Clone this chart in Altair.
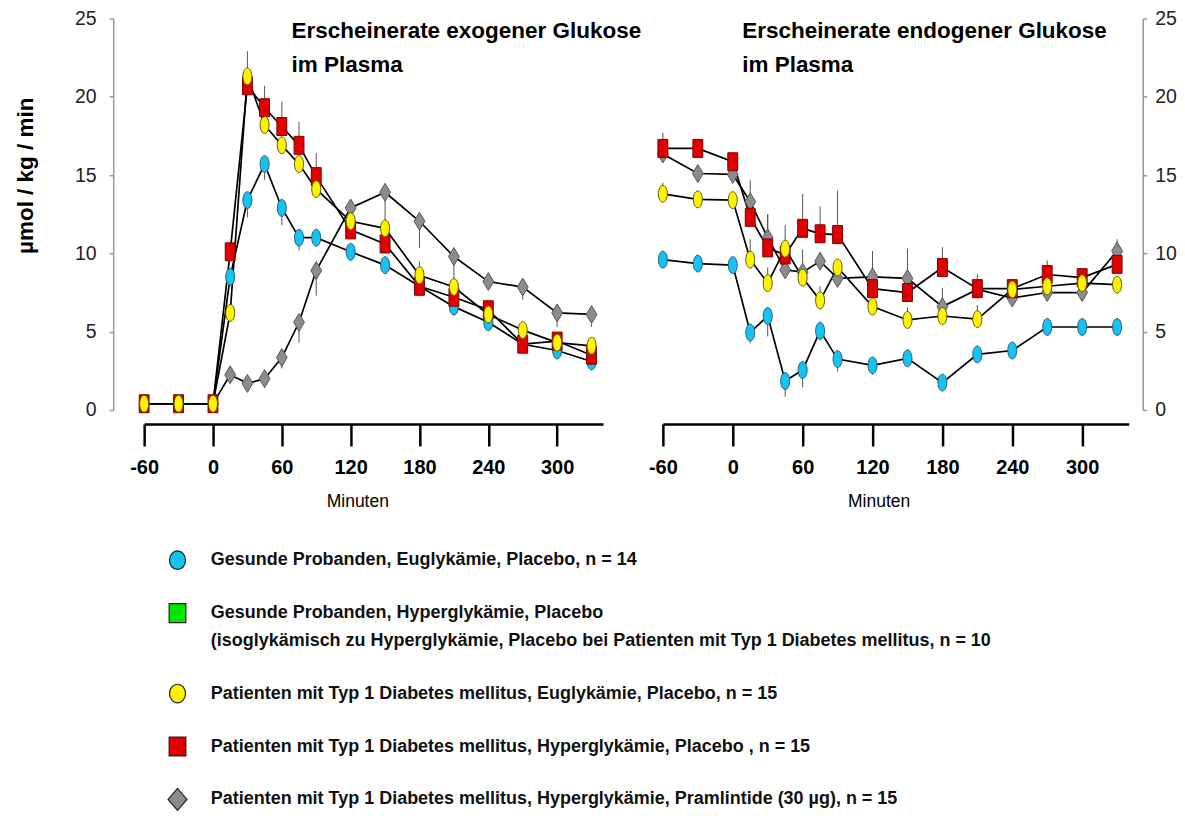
import altair as alt
import pandas as pd

# ---------------- data ----------------
times = [-60, -30, 0, 15, 30, 45, 60, 75, 90, 120, 150, 180, 210, 240, 270, 300, 330]

series_keys = ["healthy_eu", "healthy_hyper", "t1d_eu", "t1d_hyper", "t1d_pram"]
legend_labels = [
    "Gesunde Probanden, Euglykämie, Placebo, n = 14",
    "Gesunde Probanden, Hyperglykämie, Placebo\n(isoglykämisch zu Hyperglykämie, Placebo bei Patienten mit Typ 1 Diabetes mellitus, n = 10",
    "Patienten mit Typ 1 Diabetes mellitus, Euglykämie, Placebo, n = 15",
    "Patienten mit Typ 1 Diabetes mellitus, Hyperglykämie, Placebo , n = 15",
    "Patienten mit Typ 1 Diabetes mellitus, Hyperglykämie, Pramlintide (30 µg), n = 15",
]
fill_colors = ["#14C3F2", "#00E600", "#FFF200", "#E00000", "#8C8C8C"]
stroke_colors = ["#2A5B77", "#111111", "#5A5A00", "#7A0000", "#555555"]

# exogenous glucose Ra (left panel)
cyan_exo = [0.4, 0.4, 0.4, 8.5, 13.4, 15.7, 12.9, 11.0, 11.0, 10.1, 9.25, 7.9, 6.6, 5.6, 4.2, 3.8, 3.1]
red_exo = [0.4, 0.4, 0.4, 10.1, 20.7, 19.3, 18.1, 16.9, 14.9, 11.5, 10.6, 7.9, 7.2, 6.4, 4.2, 4.4, 3.5]
yellow_exo = [0.4, 0.4, 0.4, 6.2, 21.3, 18.2, 16.9, 15.7, 14.1, 12.05, 11.6, 8.6, 7.85, 6.1, 5.1, 4.3, 4.1]
gray_exo = [0.4, 0.4, 0.4, 2.25, 1.7, 2.0, 3.35, 5.6, 8.9, 12.9, 13.9, 12.05, 9.8, 8.2, 7.85, 6.2, 6.1]

cyan_exo_err = [0, 0, 0, 0, -1.1, -1.0, -1.1, -0.8, 0, 0, 0, 0, 0, 0, 0, 0, 0]
red_exo_err = [0, 0, 0, 0, 0, 1.4, 1.6, 1.5, 1.5, 0, 0, 0, 0, 0, 0, 0, 0]
yellow_exo_err = [0, 0, 0, 0, 1.6, 0, 0, 0, 0, 0, 0, 0.9, 0, 0, 0, 0, 0]
gray_exo_err = [0, 0, 0, 0, 0, 0, -0.7, -1.3, -1.6, 0, -3.6, -1.7, -1.5, 0, -0.8, -0.9, -0.8]

# endogenous glucose Ra (right panel)
cyan_endo = [9.6, 9.35, 9.25, 4.95, 6.0, 1.85, 2.55, 5.05, 3.25, 2.85, 3.3, 1.75, 3.55, 3.8, 5.3, 5.3, 5.3]
red_endo = [16.7, 16.7, 15.85, 12.3, 10.35, 9.9, 11.6, 11.25, 11.2, 7.75, 7.5, 9.1, 7.75, 7.75, 8.65, 8.45, 9.3]
yellow_endo = [13.8, 13.45, 13.4, 9.6, 8.1, 10.3, 8.45, 7.0, 9.1, 6.6, 5.75, 6.0, 5.8, 7.7, 7.9, 8.1, 8.0]
gray_endo = [16.35, 15.1, 15.05, 13.3, 11.0, 8.95, 8.8, 9.5, 8.4, 8.5, 8.4, 6.6, 7.7, 7.15, 7.5, 7.5, 10.15]

cyan_endo_err = [0, 0, 0, -0.7, -1.3, -1.0, -1.1, 0.6, -0.8, -0.6, 0, 0, 0, 0, 0, 0, 0]
red_endo_err = [1.0, 0.3, 0.4, 0, 2.15, 1.9, 2.2, 1.75, 2.8, 0, 0, 1.3, 0.9, 0, 0.9, 0.5, 0]
yellow_endo_err = [0.7, 0.5, 0.4, 1.3, 1.0, 0, 0, 0.9, 0, 0, 0.8, 0, 0.9, 0, 0, 0, 0]
gray_endo_err = [0, 0, 0, 1.4, 1.5, 0, 1.45, 0, 0, 1.65, 1.9, 1.2, 0, 0, 0, 0, 0.75]

x_ticks = [-60, 0, 60, 120, 180, 240, 300]
y_ticks = [0, 5, 10, 15, 20, 25]

# ---------------- styling ----------------
FONT = "Liberation Sans, Arial, sans-serif"

ELLIPSE = "M0,-0.94A0.5,0.94 0 1,1 0,0.94A0.5,0.94 0 1,1 0,-0.94Z"
RECT = "M-0.55,-1H0.55V1H-0.55Z"
DIAMOND = "M0,-1L0.6,0L0,1L-0.6,0Z"
plot_shapes = [ELLIPSE, RECT, ELLIPSE, RECT, DIAMOND]

L_CIRCLE = "M0,-0.85A0.73,0.85 0 1,1 0,0.85A0.73,0.85 0 1,1 0,-0.85Z"
L_RECT = "M-0.76,-0.86H0.76V0.86H-0.76Z"
L_DIAMOND = "M0,-1L0.86,0L0,1L-0.86,0Z"
legend_shapes = [L_CIRCLE, L_RECT, L_CIRCLE, L_RECT, L_DIAMOND]

draw_order = ["t1d_pram", "healthy_eu", "t1d_hyper", "t1d_eu"]

exo = {"healthy_eu": cyan_exo, "t1d_hyper": red_exo, "t1d_eu": yellow_exo, "t1d_pram": gray_exo}
exo_err = {"healthy_eu": cyan_exo_err, "t1d_hyper": red_exo_err, "t1d_eu": yellow_exo_err, "t1d_pram": gray_exo_err}
endo = {"healthy_eu": cyan_endo, "t1d_hyper": red_endo, "t1d_eu": yellow_endo, "t1d_pram": gray_endo}
endo_err = {"healthy_eu": cyan_endo_err, "t1d_hyper": red_endo_err, "t1d_eu": yellow_endo_err, "t1d_pram": gray_endo_err}


def frame(vals, errs):
    rows = []
    for k in draw_order:
        for t, v, e in zip(times, vals[k], errs[k]):
            rows.append(dict(series=k, t=t, v=v, v2=v + e, err=e))
    return pd.DataFrame(rows)


def panel(df, title_lines, title_dx, side, width, title_x):
    xsc = alt.Scale(domain=[-60, 340], nice=False, zero=False)
    ysc = alt.Scale(domain=[0, 25], nice=False, zero=False)
    xax = alt.Axis(
        values=x_ticks, title="Minuten", offset=14, grid=False,
        domainColor="black", domainWidth=2.5, tickColor="black", tickWidth=2.5, tickSize=22,
        labelFont=FONT, labelFontWeight="bold", labelFontSize=20, labelColor="black",
        labelPadding=12, labelFlush=False, labelOverlap=False, labelExpr="datum.value + ''",
        titleFont=FONT, titleFontWeight="normal", titleFontSize=17.5, titleColor="black",
        titleX=title_x, titleY=78, titleAlign="center", titleBaseline="middle",
    )
    yargs = dict(
        values=y_ticks, orient=side, grid=False,
        domainColor="#999999", domainWidth=1.5, tickColor="#999999", tickWidth=1.5, tickSize=4,
        labelFont=FONT, labelFontSize=19.5, labelColor="#222222", labelFlush=False, labelOverlap=False,
    )
    if side == "left":
        yax = alt.Axis(
            offset=31, labelPadding=13, title="µmol / kg / min",
            titleFont=FONT, titleFontWeight="bold", titleFontSize=22.5, titleColor="black",
            titleAngle=270, titleX=-88, titleY=157, titleAlign="center", titleBaseline="middle",
            **yargs,
        )
    else:
        yax = alt.Axis(offset=14, labelPadding=8, title=None, **yargs)

    base = alt.Chart(df)
    x = alt.X("t:Q", scale=xsc, axis=xax)
    y = alt.Y("v:Q", scale=ysc, axis=yax)

    rules = base.transform_filter("datum.err != 0").mark_rule(
        color="#555555", strokeWidth=1
    ).encode(x=x, y=y, y2="v2:Q")
    lines = base.mark_line(color="black", strokeWidth=1.7).encode(x=x, y=y, detail="series:N")
    points = base.mark_point(filled=True, opacity=1, size=324, strokeWidth=1).encode(
        x=x, y=y,
        shape=alt.Shape("series:N", scale=alt.Scale(domain=series_keys, range=plot_shapes), legend=None),
        fill=alt.Fill("series:N", scale=alt.Scale(domain=series_keys, range=fill_colors), legend=None),
        stroke=alt.Stroke("series:N", scale=alt.Scale(domain=series_keys, range=stroke_colors), legend=None),
    )
    return alt.layer(rules, lines, points).properties(
        width=width, height=392,
        title=alt.TitleParams(
            text=title_lines, anchor="start", frame="group", orient="top",
            dx=title_dx, dy=68, offset=0, baseline="top",
            font=FONT, fontWeight="bold", fontSize=22.5, lineHeight=34, color="black",
        ),
    )


left = panel(frame(exo, exo_err), ["Erscheinerate exogener Glukose", "im Plasma"], 147.5, "left", 459.4, 213.4)
right = panel(frame(endo, endo_err), ["Erscheinerate endogener Glukose", "im Plasma"], 79.4, "right", 466.4, 216)

# ---------------- legend ----------------
leg_rows = []
extra = 0
for i, (k, lab) in enumerate(zip(series_keys, legend_labels)):
    parts = lab.split("\n")
    leg_rows.append(dict(series=k, pos=i + 0.52 * extra, line1=parts[0],
                         line2=parts[1] if len(parts) > 1 else ""))
    extra += len(parts) - 1
leg_df = pd.DataFrame(leg_rows)

ly = alt.Y("pos:Q", scale=alt.Scale(domain=[0, 4.52], reverse=True, nice=False, zero=False), axis=None)
lbase = alt.Chart(leg_df)
lpoints = lbase.mark_point(filled=True, opacity=1, size=484, strokeWidth=1.2).encode(
    x=alt.value(33.4), y=ly,
    shape=alt.Shape("series:N", scale=alt.Scale(domain=series_keys, range=legend_shapes), legend=None),
    fill=alt.Fill("series:N", scale=alt.Scale(domain=series_keys, range=fill_colors), legend=None),
    stroke=alt.value("#222222"),
)
ltext1 = lbase.mark_text(align="left", baseline="middle", font=FONT, fontWeight="bold",
                         fontSize=18, color="#111111").encode(x=alt.value(66.7), y=ly, text="line1:N")
ltext2 = lbase.transform_filter("datum.line2 != ''").mark_text(
    align="left", baseline="middle", font=FONT, fontWeight="bold", fontSize=18, color="#111111", dy=28
).encode(x=alt.value(66.7), y=ly, text="line2:N")
legend = alt.layer(lpoints, ltext1, ltext2).properties(width=800, height=239.6)

top = alt.hconcat(left, right, spacing=59.3).properties(bounds="flush")
chart = alt.vconcat(top, legend, spacing=542.3).properties(
    bounds="flush", padding={"left": 6.3, "top": 0, "right": 0, "bottom": 0}
).resolve_scale(shape="independent", fill="independent", stroke="independent").configure_view(stroke=None)

chart.save("out.html", embed_options={"renderer": "svg", "actions": False})
